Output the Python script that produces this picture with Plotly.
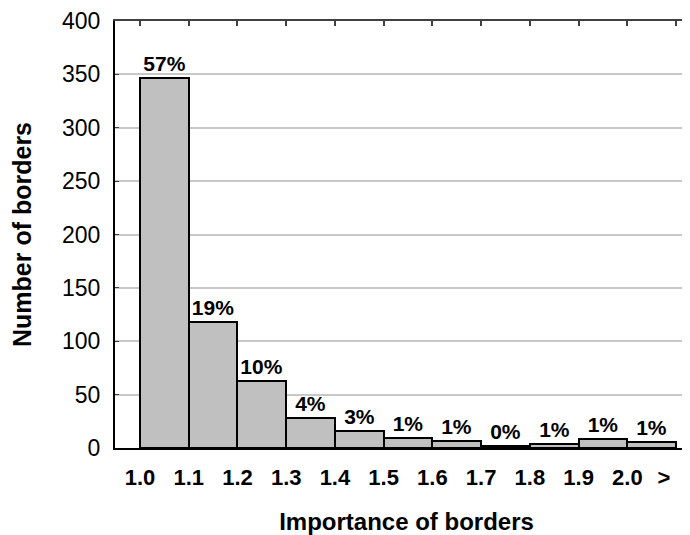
import plotly.graph_objects as go

# Data
bin_labels = ["1.0", "1.1", "1.2", "1.3", "1.4", "1.5", "1.6", "1.7", "1.8", "1.9", "2.0"]
counts = [347, 118, 63, 28, 16, 9, 7, 2, 4, 8, 6]
pct_labels = ["57%", "19%", "10%", "4%", "3%", "1%", "1%", "0%", "1%", "1%", "1%"]
tick_labels = bin_labels + [">"]
y_ticks = [0, 50, 100, 150, 200, 250, 300, 350, 400]

FONT = "Liberation Sans, Arial, sans-serif"
n = len(counts)
bar_x = [i + 0.5 for i in range(n)]
tick_pos = list(range(n)) + [n - 0.25]

fig = go.Figure()
fig.add_trace(go.Bar(
    x=bar_x, y=counts, width=1.0,
    marker=dict(color="#c0c0c0", line=dict(color="#000000", width=2)),
    text=pct_labels, textposition="outside", cliponaxis=False,
    textfont=dict(family=FONT, size=21, color="#000000", weight="bold"),
    showlegend=False,
))
# invisible trace for top axis with ticks at bin edges
fig.add_trace(go.Scatter(x=[0, n], y=[0, 0], xaxis="x2", mode="markers",
                         marker=dict(opacity=0), showlegend=False, hoverinfo="skip"))

fig.update_layout(
    width=690, height=535,
    margin=dict(l=107, r=0, t=10, b=95),
    plot_bgcolor="white", paper_bgcolor="white",
    bargap=0,
    font=dict(family=FONT, color="#000000"),
    xaxis=dict(
        range=[-0.513, 11.45],
        tickvals=tick_pos, ticktext=tick_labels,
        showgrid=False, zeroline=False,
        showline=True, linecolor="#000000", linewidth=2,
        ticks="", ticklabelstandoff=9,
        tickfont=dict(family=FONT, size=22, color="#000000", weight="bold"),
        title=dict(text="Importance of borders", standoff=24,
                   font=dict(family=FONT, size=24, color="#000000", weight="bold")),
    ),
    xaxis2=dict(
        overlaying="x", matches="x", side="top",
        tickvals=list(range(n + 1)), showticklabels=False,
        ticks="inside", ticklen=5, tickwidth=2, tickcolor="#404040",
        showline=True, linecolor="#404040", linewidth=2,
        showgrid=False, zeroline=False,
    ),
    yaxis=dict(
        range=[0, 400], tickvals=y_ticks,
        showgrid=True, gridcolor="#c8c8c8", gridwidth=2,
        zeroline=False,
        showline=True, linecolor="#000000", linewidth=2,
        ticks="inside", ticklen=4, tickcolor="#404040",
        ticklabelstandoff=8, ticklabeloverflow="allow",
        tickfont=dict(family=FONT, size=23, color="#000000"),
        title=dict(text="Number of borders", standoff=23,
                   font=dict(family=FONT, size=25, color="#000000", weight="bold")),
    ),
)

fig.write_html("out.html")
